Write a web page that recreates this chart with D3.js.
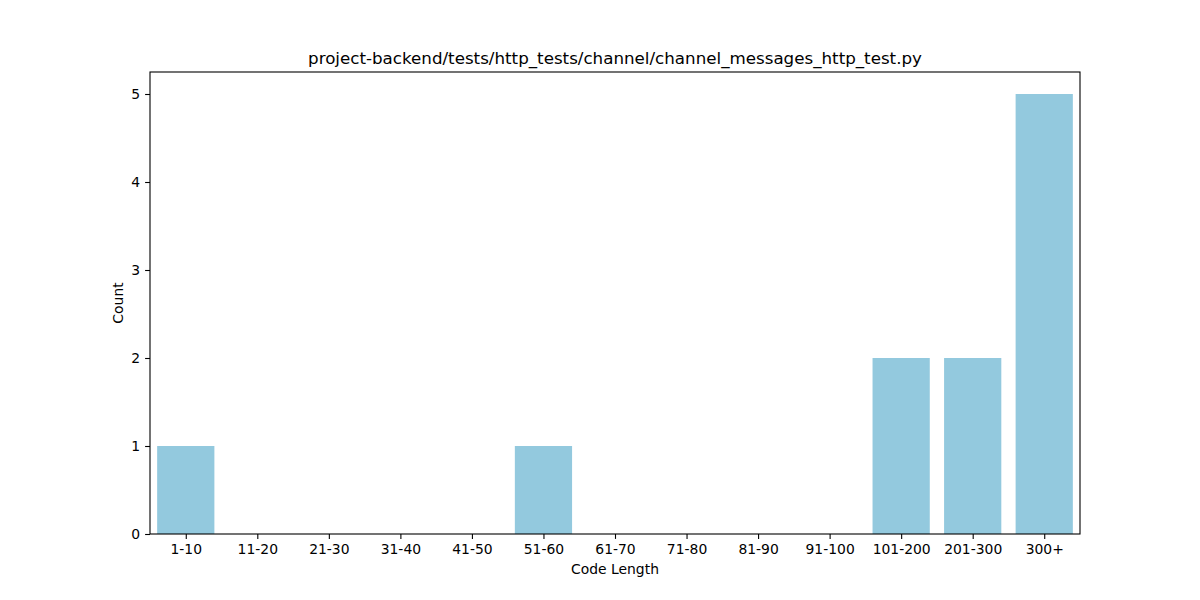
<!DOCTYPE html>
<html><head><meta charset="utf-8">
<script src="https://cdn.jsdelivr.net/npm/d3@7"></script>
<style>body{margin:0;background:#fff}svg{display:block;font-family:"DejaVu Sans",sans-serif}</style>
</head><body>
<svg id="c" width="1200" height="600"></svg>
<script>
const categories = ["1-10","11-20","21-30","31-40","41-50","51-60","61-70","71-80","81-90","91-100","101-200","201-300","300+"];
const counts = [1,0,0,0,0,1,0,0,0,0,2,2,5];
const yTicks = [0,1,2,3,4,5];
const title = "project-backend/tests/http_tests/channel/channel_messages_http_test.py";

const svg = d3.select("#c");
const L = 150, R = 1080, T = 72, B = 534;
const x = d3.scaleLinear().domain([-0.5, categories.length - 0.5]).range([L, R]);
const y = d3.scaleLinear().domain([0, 5.25]).range([B, T]);

svg.append("g").selectAll("rect").data(counts).join("rect")
  .attr("x", (d,i) => x(i - 0.4)).attr("width", (d,i) => x(i + 0.4) - x(i - 0.4))
  .attr("y", d => y(d)).attr("height", d => y(0) - y(d))
  .attr("fill", "#93c9de");

const xa = svg.append("g").attr("transform", `translate(0,${B})`)
  .call(d3.axisBottom(x).tickValues(d3.range(categories.length)).tickFormat(i => categories[i]).tickSize(4.9).tickPadding(4.9).tickSizeOuter(0));
const ya = svg.append("g").attr("transform", `translate(${L},0)`)
  .call(d3.axisLeft(y).tickValues(yTicks).tickFormat(d3.format("d")).tickSize(4.9).tickPadding(4.9).tickSizeOuter(0));
[xa, ya].forEach(a => {
  a.select(".domain").remove();
  a.selectAll("line").attr("stroke", "#000").attr("stroke-width", 1.1);
  a.selectAll("text").attr("font-size", "13.9px").attr("fill", "#000").attr("font-family", "DejaVu Sans");
});

svg.append("rect").attr("x", L).attr("y", T).attr("width", R - L).attr("height", B - T)
  .attr("fill", "none").attr("stroke", "#000").attr("stroke-width", 1.1);

svg.append("text").attr("x", (L + R) / 2).attr("y", T - 8.5).attr("text-anchor", "middle")
  .attr("font-size", "16.7px").text(title);
svg.append("text").attr("x", (L + R) / 2).attr("y", 574).attr("text-anchor", "middle")
  .attr("font-size", "13.9px").text("Code Length");
svg.append("text").attr("transform", `translate(123,${(T + B) / 2}) rotate(-90)`).attr("text-anchor", "middle")
  .attr("font-size", "13.9px").text("Count");
</script>
</body></html>
